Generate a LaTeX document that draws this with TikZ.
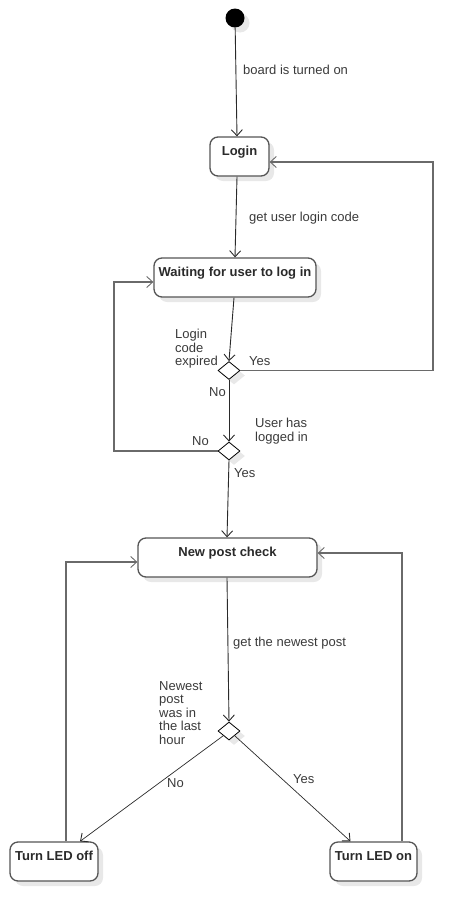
\documentclass[tikz,border=0pt]{standalone}
\usepackage{fontspec}
\setmainfont{Liberation Sans}
\usetikzlibrary{arrows.meta,shapes.geometric,shadows}
\definecolor{linec}{HTML}{6A6A6A}
\definecolor{darkc}{HTML}{2A2A2A}
\definecolor{boxc}{HTML}{555555}
\definecolor{shadowc}{HTML}{E8E8E8}
\definecolor{txtc}{HTML}{3A3A3A}
\tikzset{
  shad/.style={drop shadow={shadow xshift=5pt,shadow yshift=-5pt,fill=shadowc,opacity=1}},
  statebox/.style={draw=boxc, line width=1.3pt, rounded corners=8pt, fill=white,
    minimum height=39pt, inner sep=0pt, shad},
  boxtxt/.style={font=\fontsize{13}{15}\selectfont\bfseries, text=darkc, inner sep=0pt,
    text height=9.5pt, text depth=2.5pt, yshift=5pt},
  startc/.style={circle, fill=black, minimum size=19pt, inner sep=0pt, shad},
  dec/.style={diamond, draw=black, line width=0.8pt, fill=white, minimum width=22pt,
    minimum height=18pt, inner sep=0pt, shad},
  lbl/.style={font=\fontsize{13}{13.5}\selectfont, text=txtc, inner sep=0pt, align=left, anchor=north west},
  tip/.style={-{Straight Barb[length=6pt,width=11pt,line width=0.9pt]}},
  conn/.style={draw=darkc, line width=0.9pt, tip},
  loopc/.style={draw=linec, line width=1.5pt, tip},
}
\begin{document}
\begin{tikzpicture}[x=1pt,y=-1pt]
\useasboundingbox (0,0) rectangle (475,921);
% nodes
\node[startc] (start) at (235,18) {};
\node[statebox, minimum width=59pt, label={[boxtxt,name=login-t]center:Login}] (login) at (239.5,156.5) {};
\node[statebox, minimum width=162pt, label={[boxtxt,name=wait-t]center:Waiting for user to log in}] (wait) at (235,277.5) {};
\node[dec] (d1) at (229,370.5) {};
\node[dec] (d2) at (229,451) {};
\node[statebox, minimum width=179pt, label={[boxtxt,name=npc-t]center:New post check}] (npc) at (227.5,557.5) {};
\node[dec] (d3) at (229,731) {};
\node[statebox, minimum width=88pt, label={[boxtxt,name=off-t]center:Turn LED off}] (off) at (54,861.5) {};
\node[statebox, minimum width=87pt, label={[boxtxt,name=on-t]center:Turn LED on}] (on) at (373.5,861.5) {};
% labels
\node[lbl] (l1) at (243,65) {board is turned on};
\node[lbl] (l2) at (249,212) {get user login code};
\node[lbl] (l3) at (175,329) {Login\\code\\expired};
\node[lbl] (l4) at (249,356) {Yes};
\node[lbl] (l5) at (209,387) {No};
\node[lbl] (l6) at (255,418) {User has\\logged in};
\node[lbl] (l7) at (192,436) {No};
\node[lbl] (l8) at (234,468) {Yes};
\node[lbl] (l9) at (233,637) {get the newest post};
\node[lbl] (l10) at (159,681) {Newest\\post\\was in\\the last\\hour};
\node[lbl] (l11) at (167,778) {No};
\node[lbl] (l12) at (293,774) {Yes};
% connectors
\draw[conn] (start) -- ([xshift=-2.5pt]login.north);
\draw[conn] ([xshift=-2.5pt]login.south) -- (wait.north);
\draw[conn] ([xshift=-1pt]wait.south) -- (d1.north);
\draw[loopc] (d1.east) -- (433,370.5) |- ([yshift=-5.5pt]login.east);
\draw[conn] (d1.south) -- (d2.north);
\draw[loopc] (d2.west) -- (114,451) |- ([yshift=-4.5pt]wait.west);
\draw[conn] (d2.south) -- ([xshift=-0.5pt]npc.north);
\draw[conn] ([xshift=-0.5pt]npc.south) -- (d3.north);
\draw[conn, line width=0.7pt] (d3.south west) -- ([xshift=26pt]off.north);
\draw[conn, line width=0.7pt] (d3.south east) -- ([xshift=-23pt]on.north);
\draw[loopc] ([xshift=12pt]off.north) |- ([yshift=-4.5pt]npc.west);
\draw[loopc] ([xshift=28.5pt]on.north) |- ([yshift=4.5pt]npc.east);
\end{tikzpicture}
\end{document}
